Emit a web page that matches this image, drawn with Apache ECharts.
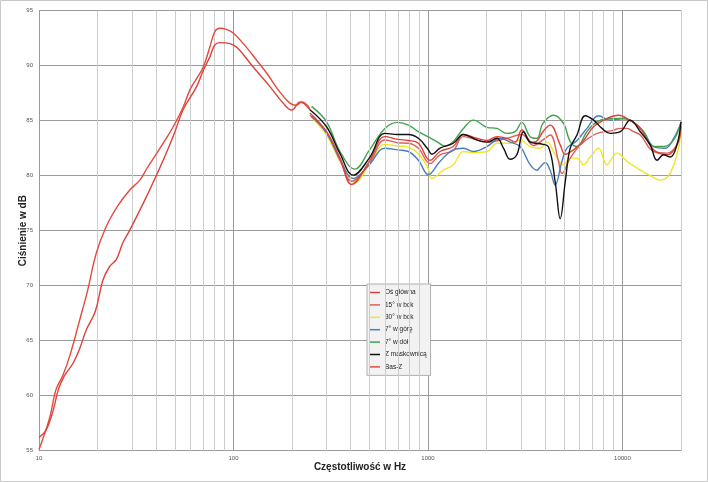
<!DOCTYPE html>
<html><head><meta charset="utf-8">
<script src="https://cdn.jsdelivr.net/npm/echarts@6/dist/echarts.min.js"></script>
<style>html,body{margin:0;padding:0;background:#fff}#c{width:708px;height:482px}</style>
</head><body><div id="c"></div>
<script>
// ---- data ----
const seriesNames = ['Oś główna','15° w bok','30° w bok','7° w górę','7° w dół','Z maskownicą','Bas-Z'];
const xTickLabels = [10, 100, 1000, 10000];
const minorGridFreqs = [20,30,40,50,60,70,80,90,200,300,400,500,600,700,800,900,2000,3000,4000,5000,6000,7000,8000,9000,20000];

// low-frequency part of "Oś główna"
const osGlownaLow = [[10,56.2],[10.9,56.9],[11.8,58.6],[12.6,60.6],[13.5,61.8],[14.96,62.95],[16.2,64.3],[17.5,65.97],[19.5,67.7],[21.3,70.5],[23,71.7],[25,72.4],[27,73.9],[29.3,75.05],[35.7,78.1],[43.5,81.4],[50,84.0],[55,85.97],[64.6,88.1],[70,89.6],[75.6,90.8],[80.2,91.9],[85,92.1],[96,92.0],[105,91.6],[126,89.9],[154,88.1],[180,86.6],[199,85.97],[220,86.7],[247,86.0]];
const osGlownaHigh = [[247,85.7],[301,84.0],[353,81.6],[405,79.2],[499,81.3],[601,83.55],[699,83.3],[793,83.2],[893,82.95],[1026,81.4],[1153,82.2],[1350,82.65],[1522,83.75],[1783,83.4],[2010,83.2],[2261,83.55],[2545,83.4],[2806,83.05],[3040,84.15],[3422,83.05],[3600,83.1],[3900,84.0],[4249,84.6],[4786,82.8],[5080,81.95],[5600,82.35],[6310,83.2],[7100,84.45],[8320,85.2],[9550,85.5],[10970,85.0],[12350,84.3],[14460,82.35],[16950,81.9],[19060,82.8],[20000,84.5]];
const bok15 = [[247,85.5],[301,83.9],[353,81.4],[405,79.5],[499,81.1],[601,83.25],[699,83.0],[793,82.95],[893,82.5],[1026,81.1],[1153,81.9],[1350,82.3],[1522,83.55],[2010,83.05],[2545,83.4],[3040,83.75],[3490,82.75],[3900,83.25],[4249,83.7],[4690,81.3],[4884,80.2],[5386,81.6],[6070,82.8],[7100,83.7],[8000,84.0],[8830,84.1],[9750,84.3],[10550,84.3],[11410,84.0],[12350,83.7],[14460,82.2],[16950,82.05],[19060,82.8],[20000,84.3]];
const bok30 = [[252,85.3],[301,83.7],[353,81.3],[421,79.4],[499,81.0],[601,82.85],[699,82.7],[793,82.6],[893,82.0],[1000,80.7],[1047,79.75],[1200,80.5],[1350,81.0],[1522,82.2],[1714,82.1],[2010,82.2],[2261,82.95],[2645,82.95],[2978,83.25],[3353,82.65],[3777,82.5],[4086,83.1],[4508,81.9],[4977,81.0],[5386,81.6],[5835,81.6],[6310,81.0],[6830,81.7],[7540,82.5],[8320,81.0],[9370,82.05],[10550,81.3],[12350,80.5],[13900,80.0],[15660,79.6],[17270,80.0],[19060,81.9],[20000,84.0]];
const gora7 = [[252,85.4],[301,83.9],[353,81.5],[413,79.75],[499,81.0],[601,82.5],[699,82.35],[793,82.2],[893,81.4],[1005,80.1],[1153,81.3],[1350,82.35],[1522,82.5],[1714,82.2],[2010,82.65],[2350,83.4],[2645,83.05],[2978,82.65],[3353,81.0],[3630,80.5],[3777,80.8],[4006,81.2],[4249,80.5],[4508,79.15],[4884,81.3],[5180,82.5],[5835,83.2],[6560,84.3],[7540,85.45],[8650,85.05],[10140,85.2],[11410,84.85],[12850,84.0],[14460,82.65],[16610,82.5],[18330,83.4],[20000,84.8]];
const dol7 = [[252,86.3],[301,84.9],[353,82.2],[421,80.6],[499,82.3],[601,84.3],[699,84.85],[793,84.6],[893,84.0],[1000,83.55],[1110,83.1],[1224,82.7],[1350,83.1],[1522,84.3],[1714,85.05],[2010,84.4],[2261,84.3],[2545,83.85],[2806,84.0],[3040,84.85],[3353,83.55],[3630,83.4],[3900,84.75],[4420,85.5],[4977,84.75],[5386,83.1],[5835,82.65],[6560,84.0],[7390,84.9],[8650,85.2],[10140,85.2],[11410,84.85],[12850,84.0],[14460,82.65],[16290,82.65],[18330,83.25],[20000,84.9]];
const maskownica = [[247,86.0],[301,84.45],[353,82.0],[413,80.05],[499,81.6],[601,83.85],[699,83.75],[793,83.75],[893,83.4],[1000,82.4],[1047,81.95],[1153,82.5],[1350,82.95],[1522,83.75],[1783,83.25],[2010,83.05],[2261,83.4],[2445,82.5],[2645,81.5],[2863,81.9],[3098,84.0],[3353,83.05],[3777,82.9],[4168,82.6],[4508,79.45],[4786,76.1],[5080,79.45],[5386,82.5],[5835,83.7],[6440,85.45],[7100,85.05],[7850,84.3],[8650,83.85],[9750,84.0],[10970,85.05],[12350,84.0],[13900,82.8],[15060,81.4],[16290,81.9],[17620,81.7],[19060,82.8],[20000,84.9]];
const basZ = [[10,55.1],[11.35,58.0],[12.2,60.5],[13.3,61.9],[14.5,63.8],[16.2,66.9],[17.8,69.6],[19.7,72.95],[22.2,75.4],[25.5,77.3],[29.3,78.7],[33,79.6],[36,80.7],[40.2,82.0],[44,83.1],[49,84.45],[55,86.2],[59.7,87.8],[65,88.9],[70,89.9],[75.6,91.7],[80.2,93.1],[85,93.4],[92,93.3],[100,92.95],[115,91.8],[131.6,90.5],[150,89.2],[170,87.8],[195,86.6],[210,86.4],[225,86.7],[247,86.1]];

const colors = ['#e0403a','#d9605a','#f0e62a','#4a7ebb','#3fa34d','#111111','#e34b3f'];

const chart = echarts.init(document.getElementById('c'), null, {renderer:'canvas'});
const font = '"Liberation Sans", "Open Sans", sans-serif';
function line(name, data, color, z){
  return {name, type:'line', data, smooth:0.4, showSymbol:false, symbol:'none', z,
    lineStyle:{color, width:1.4}, itemStyle:{color}, connectNulls:false, animation:false};
}
const osGlowna = osGlownaLow.concat([[248,null]], osGlownaHigh);
chart.setOption({
  animation:false,
  backgroundColor:'#ffffff',
  graphic:[{type:'rect', shape:{x:0.5,y:0.5,width:707,height:481}, style:{fill:'none', stroke:'#c8c8c8', lineWidth:1}, silent:true}],
  grid:{left:39, right:27, top:10.7, bottom:31.3, containLabel:false},
  xAxis:{type:'log', logBase:10, min:10, max:20000,
    name:'Częstotliwość w Hz', nameLocation:'middle', nameGap:12, nameMoveOverlap:false,
    nameTextStyle:{fontFamily:font, fontSize:10, fontWeight:'bold', color:'#222'},
    axisLine:{show:true, lineStyle:{color:'#9a9a9a', width:1}},
    axisTick:{show:false},
    axisLabel:{fontFamily:font, fontSize:6, color:'#555', margin:5,
      formatter:v=> xTickLabels.indexOf(Math.round(v))>=0 ? String(Math.round(v)) : ''},
    splitLine:{show:true, lineStyle:{color:'#9a9a9a', width:1}}
  },
  yAxis:{type:'value', min:55, max:95, interval:5,
    name:'Ciśnienie w dB', nameLocation:'middle', nameGap:11, nameRotate:90, nameMoveOverlap:false,
    nameTextStyle:{fontFamily:font, fontSize:10, fontWeight:'bold', color:'#222'},
    axisLine:{show:true, lineStyle:{color:'#9a9a9a', width:1}},
    axisTick:{show:false},
    axisLabel:{fontFamily:font, fontSize:6, color:'#555', margin:6},
    splitLine:{show:true, lineStyle:{color:'#9a9a9a', width:1}}
  },
  legend:{data:seriesNames, orient:'vertical', left:367, top:284,
    backgroundColor:'#f2f2f2', borderColor:'#b0b0b0', borderWidth:1, borderRadius:0,
    padding:[4,4,4,3], itemGap:3.4, itemWidth:10, itemHeight:1.5, icon:'rect',
    textStyle:{fontFamily:font, fontSize:6.5, color:'#222', lineHeight:9}},
  series:[
    {name:'grid', type:'line', data:[], z:1, silent:true,
      markLine:{silent:true, symbol:'none', animation:false, label:{show:false},
        lineStyle:{color:'#cdcdcd', width:1, type:'solid'},
        data: minorGridFreqs.map(f=>({xAxis:f}))}},
    line(seriesNames[0], osGlowna, colors[0], 5),
    line(seriesNames[1], bok15, colors[1], 4),
    line(seriesNames[2], bok30, colors[2], 3),
    line(seriesNames[3], gora7, colors[3], 4),
    line(seriesNames[4], dol7, colors[4], 4),
    line(seriesNames[5], maskownica, colors[5], 6),
    line(seriesNames[6], basZ, colors[6], 5)
  ]
});
</script></body></html>
